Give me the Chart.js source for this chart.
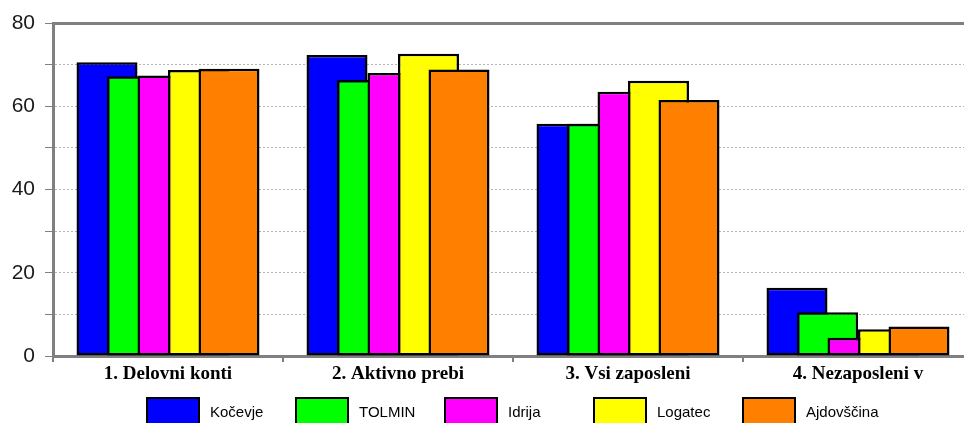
<!DOCTYPE html>
<html>
<head>
<meta charset="utf-8">
<script src="https://cdn.jsdelivr.net/npm/chart.js@4/dist/chart.umd.min.js"></script>
<style>
  html, body { margin: 0; padding: 0; background: #fff; overflow: hidden; }
  #wrap { width: 1026px; height: 423px; }
</style>
</head>
<body>
<div id="wrap"><canvas id="chart" width="1026" height="423"></canvas></div>
<script>
const categories = ['1. Delovni konti', '2. Aktivno prebi', '3. Vsi zaposleni', '4. Nezaposleni v'];
const seriesNames = ['Kočevje', 'TOLMIN', 'Idrija', 'Logatec', 'Ajdovščina'];
const kocevje = [70.6, 72.3, 55.8, 16.4];
const tolmin = [67.2, 66.3, 55.8, 10.5];
const idrija = [67.4, 68.0, 63.5, 4.4];
const logatec = [68.7, 72.6, 66.1, 6.4];
const ajdovscina = [69.0, 68.8, 61.5, 7.1];
const yTicks = [0, 20, 40, 60, 80];

const seriesValues = [kocevje, tolmin, idrija, logatec, ajdovscina];
const colors = ['#0000ff', '#00ff00', '#ff00ff', '#ffff00', '#ff8000'];

// later series should sit on top of earlier ones (overlapping bars)
const drawInOrder = {
    id: 'drawInOrder',
    beforeDatasetDraw() { return false; },
    afterDatasetsDraw(chart) {
        chart.data.datasets.forEach((ds, i) => {
            const meta = chart.getDatasetMeta(i);
            if (meta.visible) meta.controller.draw();
        });
    }
};

// legend with equal spacing, boxes run off the bottom edge
const boxLegend = {
    id: 'boxLegend',
    afterDraw(chart) {
        const ctx = chart.ctx;
        const left = chart.chartArea.left + 94;
        ctx.save();
        ctx.font = '15px "Liberation Sans", Arial, sans-serif';
        ctx.textBaseline = 'middle';
        ctx.textAlign = 'left';
        chart.data.datasets.forEach((ds, i) => {
            const x = left + i * 149;
            ctx.fillStyle = ds.backgroundColor;
            ctx.fillRect(x, 398, 52, 32);
            ctx.lineWidth = 2;
            ctx.strokeStyle = '#000';
            ctx.strokeRect(x, 398, 52, 32);
            ctx.fillStyle = '#000';
            ctx.fillText(ds.label, x + 63, 413);
        });
        ctx.restore();
    }
};

new Chart(document.getElementById('chart'), {
    type: 'bar',
    data: {
        labels: categories,
        datasets: seriesNames.map((name, i) => ({
            label: name,
            data: seriesValues[i],
            backgroundColor: colors[i],
            borderColor: '#000',
            borderWidth: 2.5,
            borderSkipped: false,
            categoryPercentage: 0.663,
            barPercentage: 2
        }))
    },
    options: {
        responsive: false,
        animation: false,
        layout: { padding: { left: 0, right: 53, top: 23, bottom: 0 } },
        plugins: {
            legend: { display: false },
            tooltip: { enabled: false }
        },
        scales: {
            x: {
                position: 'bottom',
                afterFit: s => { s.height = 67; },
                grid: { drawOnChartArea: false, tickLength: 6, color: '#808080', lineWidth: 2, offset: true },
                border: { color: '#808080', width: 3 },
                ticks: {
                    padding: 1,
                    color: '#000',
                    font: { family: '"Liberation Serif", "Times New Roman", serif', size: 19, weight: 'bold' }
                }
            },
            xTop: {
                type: 'category',
                position: 'top',
                afterFit: s => { s.height = 0; },
                grid: { display: false },
                ticks: { display: false },
                border: { color: '#808080', width: 3 }
            },
            y: {
                min: 0,
                max: 80,
                afterFit: s => { s.width = 53; },
                grid: {
                    color: '#b4b4b4',
                    lineWidth: 1,
                    tickLength: 8,
                    tickColor: '#808080',
                    tickWidth: 1
                },
                border: { color: '#808080', width: 3, dash: [2, 2] },
                ticks: {
                    stepSize: 10,
                    padding: 10,
                    color: '#1a1a1a',
                    font: { family: '"Liberation Sans", Arial, sans-serif', size: 21 },
                    callback: v => yTicks.includes(v) ? String(v) : ''
                }
            }
        }
    },
    plugins: [drawInOrder, boxLegend]
});
</script>
</body>
</html>
